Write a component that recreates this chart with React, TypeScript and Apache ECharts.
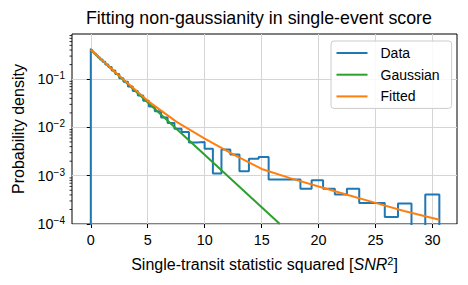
import React, { useEffect, useRef } from 'react';
import * as echarts from 'echarts';

// Histogram bin edges (SNR^2) and densities
const histEdges = [
  0, 0.0127, 0.051, 0.115, 0.204, 0.319, 0.459, 0.625, 0.816, 1.032,
  1.275, 1.542, 1.835, 2.154, 2.498, 2.868, 3.263, 3.684, 4.13, 4.601,
  5.098, 5.621, 6.169, 6.743, 7.342, 7.966, 8.616, 9.292, 9.993, 10.719,
  11.471, 12.249, 13.052, 13.88, 14.735, 15.614, 16.519, 17.45, 18.405, 19.387,
  20.394, 21.426, 22.484, 23.567, 24.676, 25.81, 26.97, 28.155, 29.365, 30.6,
];
const histDensity = [
  0.43, 0.41, 0.4, 0.38, 0.355, 0.335, 0.31, 0.28, 0.255, 0.23,
  0.2, 0.178, 0.15, 0.127, 0.104, 0.088, 0.07, 0.057, 0.046, 0.0355,
  0.027, 0.0215, 0.016, 0.0123, 0.0094, 0.008, 0.0049, 0.005, 0.0036, 0.00111,
  0.0035, 0.00276, 0.00124, 0.00224, 0.00243, 0.00083, 0.00083, 0.00083, 0.00054, 0.00081,
  0.00054, 0.00041, 0.00054, 0.000273, 0.000273, 0.00014, 0.000265, 0, 0.00041,
];

const gaussX = [0, 16.6];
const gaussY = [0.4, 0.0001];

const fitX = [0, 2.5, 5, 7.5, 10, 12.5, 15, 17.5, 20, 22.5, 25, 27.5, 30.6];
const fitY = [0.407, 0.1175, 0.0355, 0.01318, 0.00589, 0.002754, 0.00138, 0.000891, 0.000596, 0.000403, 0.000274, 0.000186, 0.000123];

const xTicks = [0, 5, 10, 15, 20, 25, 30];
const yTicks = [0.0001, 0.001, 0.01, 0.1];
const legendNames = ['Data', 'Gaussian', 'Fitted'];
const colors = ['#1f77b4', '#2ca02c', '#ff7f0e'];

const X_MIN = -1.65;
const X_MAX = 32.15;
const Y_MIN = 0.0001;
const Y_MAX = 0.86;
const FONT = 'Liberation Sans, Arial, Helvetica, sans-serif';
const FLOOR = 1e-7;

export default function App() {
  const ref = useRef<HTMLDivElement>(null);
  useEffect(() => {
    if (!ref.current) return;
    const chart = echarts.init(ref.current, null, { renderer: 'svg' });

    const histPoints: number[][] = [[histEdges[0], FLOOR]];
    histDensity.forEach((v, i) => histPoints.push([histEdges[i], v > 0 ? v : FLOOR]));
    histPoints.push([histEdges[histEdges.length - 1], FLOOR]);

    const minorTicks: number[][] = [];
    for (let k = -4; k <= -1; k++) {
      for (let m = 2; m <= 9; m++) {
        const v = m * Math.pow(10, k);
        if (v < Y_MAX) minorTicks.push([X_MIN, v]);
      }
    }

    const supRich = {
      b: { fontSize: 14.4, fontFamily: FONT, color: '#000' },
      s: { fontSize: 10, fontFamily: FONT, color: '#000', padding: [0, 0, 7, 0] },
    };

    chart.setOption({
      animation: false,
      backgroundColor: '#fff',
      title: {
        text: 'Fitting non-gaussianity in single-event score',
        left: 86,
        top: 9,
        padding: 0,
        textStyle: { fontSize: 17.8, fontWeight: 'normal', color: '#000', fontFamily: FONT },
      },
      legend: {
        data: legendNames.map((n) => ({ name: n, icon: 'rect' })),
        orient: 'vertical',
        left: 331,
        top: 41,
        itemWidth: 31,
        itemHeight: 2,
        itemGap: 7.7,
        padding: [5, 12, 5, 5.5],
        borderColor: '#cccccc',
        borderWidth: 1,
        borderRadius: 3,
        backgroundColor: 'rgba(255,255,255,0.85)',
        textStyle: { fontSize: 14, fontFamily: FONT, color: '#000', lineHeight: 14, padding: [0, 0, 0, 8] },
      },
      grid: {
        left: 72,
        right: 11,
        top: 34,
        bottom: 61,
        show: true,
        borderColor: '#000',
        borderWidth: 1,
        backgroundColor: 'transparent',
        containLabel: false,
      },
      xAxis: {
        type: 'value',
        min: X_MIN,
        max: X_MAX,
        name: 'Single-transit statistic squared [{i|SNR}{s|2}]',
        nameLocation: 'middle',
        nameGap: 31,
        nameTextStyle: {
          fontSize: 16,
          fontFamily: FONT,
          color: '#000',
          rich: {
            i: { fontSize: 16, fontStyle: 'italic', fontFamily: FONT, color: '#000' },
            s: { fontSize: 11, fontFamily: FONT, color: '#000', padding: [0, 0, 8, 0] },
          },
        },
        axisLine: { show: false },
        axisTick: { show: true, length: 4, inside: false, lineStyle: { color: '#000', width: 1 }, customValues: xTicks },
        axisLabel: { show: true, margin: 9, fontSize: 14.4, fontFamily: FONT, color: '#000', customValues: xTicks },
        splitLine: { show: true, lineStyle: { color: '#d5d5d5', width: 1 } },
      },
      yAxis: {
        type: 'log',
        logBase: 10,
        min: Y_MIN,
        max: Y_MAX,
        name: 'Probability density',
        nameLocation: 'middle',
        nameRotate: 90,
        nameGap: 42,
        nameTextStyle: { fontSize: 16, fontFamily: FONT, color: '#000' },
        axisLine: { show: false },
        axisTick: { show: true, length: 4, inside: false, lineStyle: { color: '#000', width: 1 }, customValues: yTicks },
        axisLabel: {
          show: true,
          margin: 7,
          customValues: yTicks,
          formatter: (v: number) => {
            const e = Math.round(Math.log10(v));
            return '{b|10}{s|\u2212' + Math.abs(e) + '}';
          },
          rich: supRich,
        },
        splitLine: { show: true, lineStyle: { color: '#d5d5d5', width: 1 } },
        minorTick: { show: false },
      },
      series: [
        {
          name: 'Data',
          type: 'line',
          step: 'end',
          data: histPoints,
          showSymbol: false,
          symbol: 'none',
          lineStyle: { color: colors[0], width: 2 },
          itemStyle: { color: colors[0] },
          clip: true,
          z: 2,
        },
        {
          name: 'Gaussian',
          type: 'line',
          data: gaussX.map((x, i) => [x, gaussY[i]]),
          showSymbol: false,
          symbol: 'none',
          lineStyle: { color: colors[1], width: 2 },
          itemStyle: { color: colors[1] },
          clip: true,
          z: 3,
        },
        {
          name: 'Fitted',
          type: 'line',
          data: fitX.map((x, i) => [x, fitY[i]]),
          showSymbol: false,
          symbol: 'none',
          lineStyle: { color: colors[2], width: 2 },
          itemStyle: { color: colors[2] },
          clip: true,
          z: 4,
        },
        {
          name: 'minor',
          type: 'custom',
          data: minorTicks,
          clip: false,
          silent: true,
          renderItem: (params: any, api: any) => {
            const p = api.coord([api.value(0), api.value(1)]);
            return {
              type: 'line',
              shape: { x1: p[0] - 2.5, y1: p[1], x2: p[0], y2: p[1] },
              style: { stroke: '#000', lineWidth: 0.8 },
            };
          },
          z: 5,
        },
      ],
    });

    return () => chart.dispose();
  }, []);

  return <div ref={ref} style={{ position: 'fixed', left: 0, top: 0, width: 468, height: 285 }} />;
}
